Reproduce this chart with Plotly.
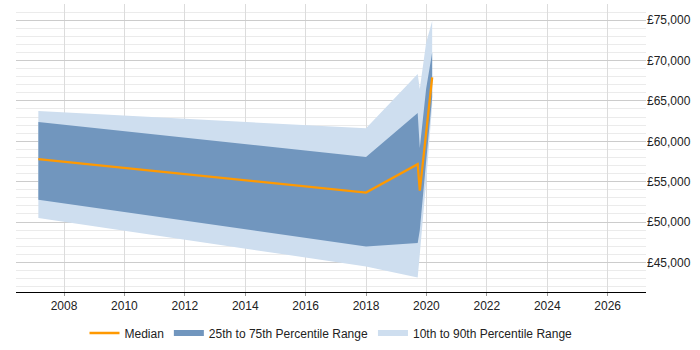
import plotly.graph_objects as go

# Data (years as decimal, values in GBP)
years = [2007.15, 2018.0, 2019.71, 2019.78, 2019.99, 2020.19]
p10 = [50490, 44510, 43150, 46000, 55000, 64500]
p25 = [52750, 46980, 47400, 49000, 57500, 65500]
median = [57780, 53650, 57160, 53900, 61000, 67900]
p75 = [62390, 58070, 63500, 59180, 66500, 71000]
p90 = [63750, 61610, 68330, 66470, 72190, 74900]

x_ticks = list(range(2008, 2027, 2))
y_ticks = list(range(45000, 75001, 5000))
y_tick_text = ["£{:,}".format(v) for v in y_ticks]

fig = go.Figure()

fig.add_trace(go.Scatter(
    x=years + years[::-1], y=p90 + p10[::-1],
    fill="toself", mode="none", fillcolor="rgb(206,222,239)",
    name="10th to 90th Percentile Range", legendrank=3, hoverinfo="skip"))
fig.add_trace(go.Scatter(
    x=years + years[::-1], y=p75 + p25[::-1],
    fill="toself", mode="none", fillcolor="rgb(113,150,190)",
    name="25th to 75th Percentile Range", legendrank=2, hoverinfo="skip"))
fig.add_trace(go.Scatter(
    x=years, y=median, mode="lines",
    line=dict(color="#FF9900", width=2.3),
    name="Median", legendrank=1))

fig.update_layout(
    width=700, height=350,
    margin=dict(l=16, r=54, t=4, b=58, autoexpand=False),
    paper_bgcolor="white", plot_bgcolor="white",
    font=dict(family="Liberation Sans, Arial, sans-serif", size=12, color="#222"),
    showlegend=True,
    legend=dict(orientation="h", x=0.5, xanchor="center",
                yref="container", y=0.09, yanchor="top",
                font=dict(size=12, color="#222"), itemwidth=30, traceorder="normal"),
    xaxis=dict(range=[2006.41, 2027.27], tickvals=x_ticks, ticktext=[str(v) for v in x_ticks],
               showgrid=True, gridcolor="#dcdcdc", gridwidth=1,
               showline=True, linecolor="black", linewidth=1,
               ticks="outside", ticklen=3, tickcolor="#999", zeroline=False),
    yaxis=dict(range=[41340, 77000], side="right", tickvals=y_ticks, ticktext=y_tick_text,
               showgrid=True, gridcolor="#cccccc", gridwidth=1, zeroline=False,
               ticks="", showline=False,
               minor=dict(dtick=1000, tick0=0, showgrid=True, gridcolor="#ebebeb", gridwidth=1)),
)

fig.write_html("out.html")
